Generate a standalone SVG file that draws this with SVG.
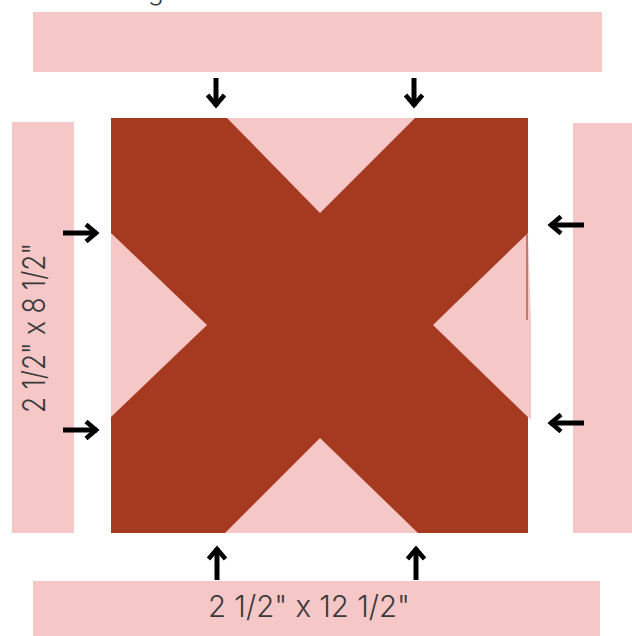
<svg xmlns="http://www.w3.org/2000/svg" width="632" height="636" viewBox="0 0 632 636">
  <style>
    .strip { fill: #f6c7c7; }
    .red { fill: #a63a21; }
    .pink { fill: #f6c7c7; }
    .lbl { font-family: Inter, "DejaVu Sans", "Liberation Sans", sans-serif; font-weight: 300; fill: #3a3a3a; }
    .arr { stroke: #000; stroke-width: 5; fill: none; }
  </style>
  <defs>
    <marker id="head" viewBox="0 0 18 20" refX="15" refY="10" markerWidth="18" markerHeight="20" markerUnits="userSpaceOnUse" orient="auto">
      <path d="M4,1.5 L14,10 L4,18.5" fill="none" stroke="#000" stroke-width="4.6" stroke-linejoin="miter" stroke-miterlimit="6"/>
    </marker>
  </defs>
  <rect width="632" height="636" fill="#ffffff"/>

  <text class="lbl" x="148" y="0" font-size="26">g</text>

  <g id="strip-top"><rect class="strip" x="33" y="12" width="569" height="60"/></g>
  <g id="strip-left">
    <rect class="strip" x="12" y="122" width="62" height="411"/>
    <text class="lbl" transform="translate(45,328) rotate(-90)" x="0" y="0" font-size="31" text-anchor="middle" textLength="170" lengthAdjust="spacingAndGlyphs">2 1/2" x 8 1/2"</text>
  </g>
  <g id="strip-right"><rect class="strip" x="573" y="123" width="59" height="410"/></g>
  <g id="strip-bottom">
    <rect class="strip" x="33" y="581" width="567" height="55"/>
    <text class="lbl" x="309" y="617" font-size="30" text-anchor="middle" textLength="202" lengthAdjust="spacingAndGlyphs">2 1/2" x 12 1/2"</text>
  </g>

  <g id="block">
    <rect class="red" x="111" y="118" width="417" height="415"/>
    <polygon class="pink" points="227,118 415,118 320,213"/>
    <polygon class="pink" points="111,233 111,417 207,325"/>
    <polygon class="pink" points="528,233 531,323 531,420 433,325"/>
    <polygon class="pink" points="225,533 418,533 320,438"/>
    <line x1="527" y1="234" x2="527" y2="320" stroke="#b65a4c" stroke-width="1.5"/>
  </g>

  <g id="connectors">
    <line class="arr" x1="216" y1="78" x2="216" y2="106" marker-end="url(#head)"/>
    <line class="arr" x1="414" y1="78" x2="414" y2="106" marker-end="url(#head)"/>
    <line class="arr" x1="63" y1="233" x2="97" y2="233" marker-end="url(#head)"/>
    <line class="arr" x1="63" y1="430" x2="97" y2="430" marker-end="url(#head)"/>
    <line class="arr" x1="584" y1="225" x2="550" y2="225" marker-end="url(#head)"/>
    <line class="arr" x1="584" y1="423" x2="550" y2="423" marker-end="url(#head)"/>
    <line class="arr" x1="217" y1="580" x2="217" y2="548" marker-end="url(#head)"/>
    <line class="arr" x1="416" y1="580" x2="416" y2="548" marker-end="url(#head)"/>
  </g>
</svg>
